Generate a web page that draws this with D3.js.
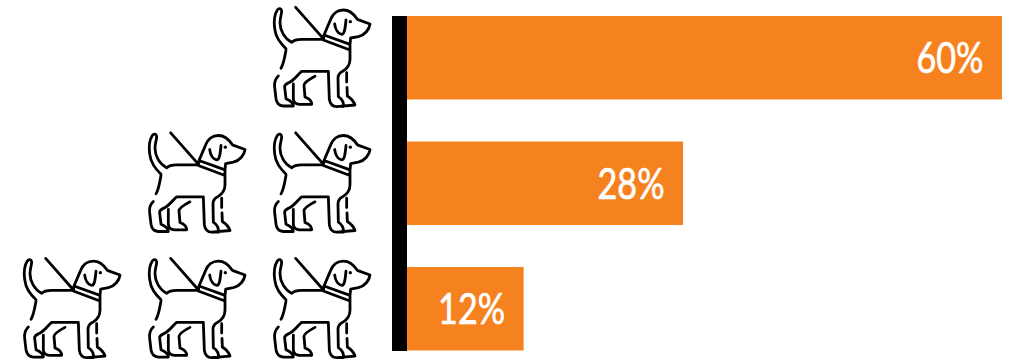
<!DOCTYPE html>
<html>
<head>
<meta charset="utf-8">
<script src="https://cdn.jsdelivr.net/npm/d3@7/dist/d3.min.js"></script>
<style>
html,body{margin:0;padding:0;background:#fff}
svg{display:block}
.pct{font-family:Lato,sans-serif;font-size:43px;font-weight:400;fill:#fff;stroke:#fff;stroke-width:.7px}
.dog path{fill:none;stroke:#000;stroke-width:8.4;stroke-linecap:round;stroke-linejoin:round}
.dog circle{fill:#000}
</style>
</head>
<body>
<svg id="chart" width="1013" height="361"></svg>
<script>
// Share of responses per row, with the number of dog pictograms beside each bar
const rows = ["one", "two", "three"];
const shares = [60, 28, 12];
const dogCounts = [1, 2, 3];
const barColor = "#f6821f";

const svg = d3.select("#chart");

const x = d3.scaleLinear().domain([0, 60]).range([404, 1002]);
const y = d3.scaleBand().domain(rows).range([16, 350.5]).paddingInner(0.335);
const slot = d3.scalePoint().domain([0, 1, 2]).range([260, 10]);

// Guide-dog outline, one subpath per stroke, in a 3x drawing grid
const dogOutline = [
  "M107 22L190 116",
  "M78 146C60 128 47 112 44 85C41 62 44 42 52 30C57 23 64 25 65 33C65 43 60 52 60 68",
  "M60 68C60 92 74 116 95 127C102 119 112 118 125 118L190 118",
  "M78 150C74 170 72 190 63 205",
  "M55 228C46 236 42 246 44 262L48 296C50 309 58 317 70 318L100 318C100 308 92 302 78 296L74 262C72 255 78 252 90 246C105 238 113 224 125 214L205 214L208 298C210 311 218 320 230 320L285 315C280 301 270 293 262 288L261 262",
  "M260 246L260 218",
  "M100 252L100 298C102 309 108 313 118 313L155 313C155 302 146 295 135 291L132 256C132 248 148 238 165 229",
  "M235 290L234 235C234 224 240 218 248 214C262 206 270 194 270 178L270 150",
  "M250 320C252 306 244 296 235 290",
  "M192 105L270 133L270 150L190 120L192 105",
  "M192 105L212 58C218 42 232 30 250 30C268 30 282 42 292 58L330 72C328 88 315 105 295 110L272 114L270 133",
  "M224 72C226 88 234 102 246 103C254 102 256 82 258 60"
].join("");

svg.append("defs").append("g").attr("id", "dog").attr("class", "dog")
  .call(g => g.append("path").attr("d", dogOutline))
  .call(g => g.append("circle").attr("cx", 271).attr("cy", 65).attr("r", 5));

// Vertical baseline in front of the bar starts
svg.append("rect")
  .attr("x", 392).attr("width", 15)
  .attr("y", y.range()[0]).attr("height", 335)
  .attr("fill", "#000");

const table = rows.map((r, i) => ({ row: r, share: shares[i], dogs: dogCounts[i] }));

const row = svg.selectAll("g.row").data(table).join("g").attr("class", "row");

row.append("rect")
  .attr("x", x(0) + 3)
  .attr("y", d => y(d.row))
  .attr("width", d => x(d.share) - x(0) - 3)
  .attr("height", y.bandwidth())
  .attr("fill", barColor);

row.append("text")
  .attr("class", "pct")
  .attr("x", d => x(d.share) - 18.5)
  .attr("y", d => y(d.row) + y.bandwidth() / 2 + 15.5)
  .attr("text-anchor", "end")
  .attr("textLength", 67)
  .attr("lengthAdjust", "spacingAndGlyphs")
  .text(d => d.share + "%");

row.selectAll("use")
  .data(d => d3.range(d.dogs).map(i => ({ i, row: d.row })))
  .join("use")
  .attr("href", "#dog")
  .attr("transform", d => `translate(${slot(d.i)},${y(d.row) - y.range()[0]}) scale(${1 / 3})`);
</script>
</body>
</html>
